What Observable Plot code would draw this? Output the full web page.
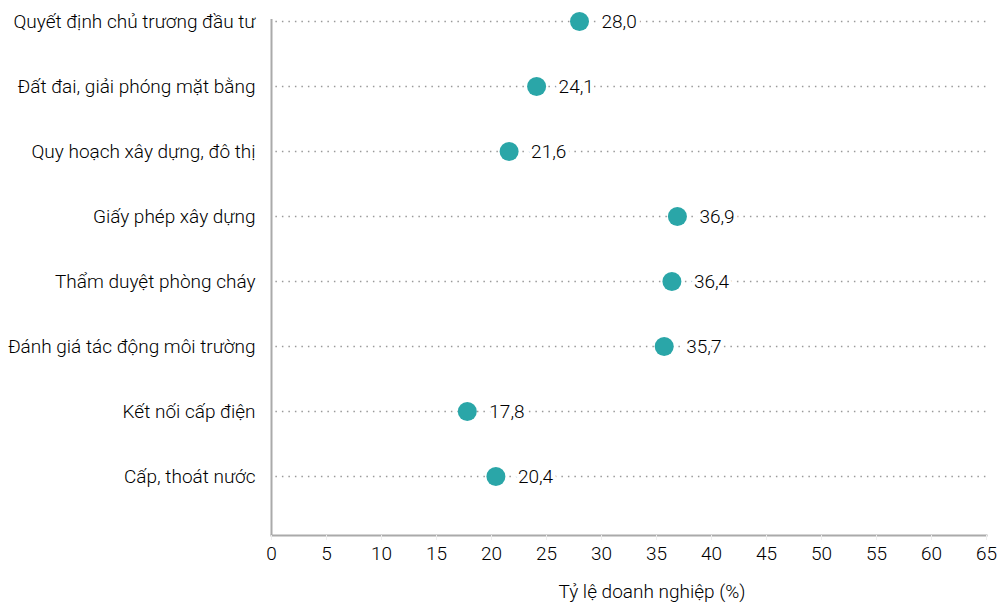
<!DOCTYPE html>
<html><head><meta charset="utf-8">
<script src="https://cdn.jsdelivr.net/npm/d3@7"></script>
<script src="https://cdn.jsdelivr.net/npm/@observablehq/plot@0.6"></script>
<style>body{margin:0;background:#fff;font-family:Roboto,sans-serif}</style>
</head><body><div id="chart"></div>
<script>
const categories = ["Quyết định chủ trương đầu tư","Đất đai, giải phóng mặt bằng","Quy hoạch xây dựng, đô thị","Giấy phép xây dựng","Thẩm duyệt phòng cháy","Đánh giá tác động môi trường","Kết nối cấp điện","Cấp, thoát nước"];
const values = [28.0,24.1,21.6,36.9,36.4,35.7,17.8,20.4];
const xTicks = [0,5,10,15,20,25,30,35,40,45,50,55,60,65];
const xTitle = "Tỷ lệ doanh nghiệp (%)";
const data = categories.map((c,i)=>({cat:c,v:values[i]}));
const fmt = v => v.toFixed(1).replace(".", ",");
const chart = Plot.plot({
  width: 1006, height: 607,
  marginLeft: 271, marginRight: 20, marginTop: 19, marginBottom: 72,
  style: {fontFamily: "Roboto, sans-serif", fontSize: "19px", fontWeight: 300, color: "#000"},
  x: {domain: [0,65], ticks: xTicks},
  y: {domain: categories, type: "point", padding: 0, insetBottom: 57},
  marks: [
    Plot.gridY({stroke: "#999", strokeOpacity: 1, strokeDasharray: "1.5,5", strokeWidth: 1.5, x1: 0.4, x2: 65.3}),
    Plot.ruleX([0], {stroke: "#aaa", strokeWidth: 2}),
    Plot.frame({anchor: "bottom", stroke: "#aaa", strokeWidth: 2}),
    Plot.axisY({tickSize: 0, tickPadding: 16, label: null, fontSize: 19, fontWeight: 300, fill: "#000"}),
    Plot.axisX({ticks: xTicks, tickSize: 5, stroke: "#eee", tickPadding: 6, fontSize: 19, fontWeight: 300, fill: "#000", label: null}),
    Plot.text([xTitle], {frameAnchor: "bottom", dy: 62, dx: 23, fontSize: 19, fontWeight: 300, fill: "#000"}),
    Plot.dot(data, {x: "v", y: "cat", r: 9.5, fill: "#2aa6a8"}),
    Plot.text(data, {x: "v", y: "cat", text: d => fmt(d.v), dx: 22, textAnchor: "start", fill: "#000", stroke: "white", strokeWidth: 8, fontSize: 19, fontWeight: 300})
  ]
});
document.getElementById("chart").appendChild(chart);
</script></body></html>
